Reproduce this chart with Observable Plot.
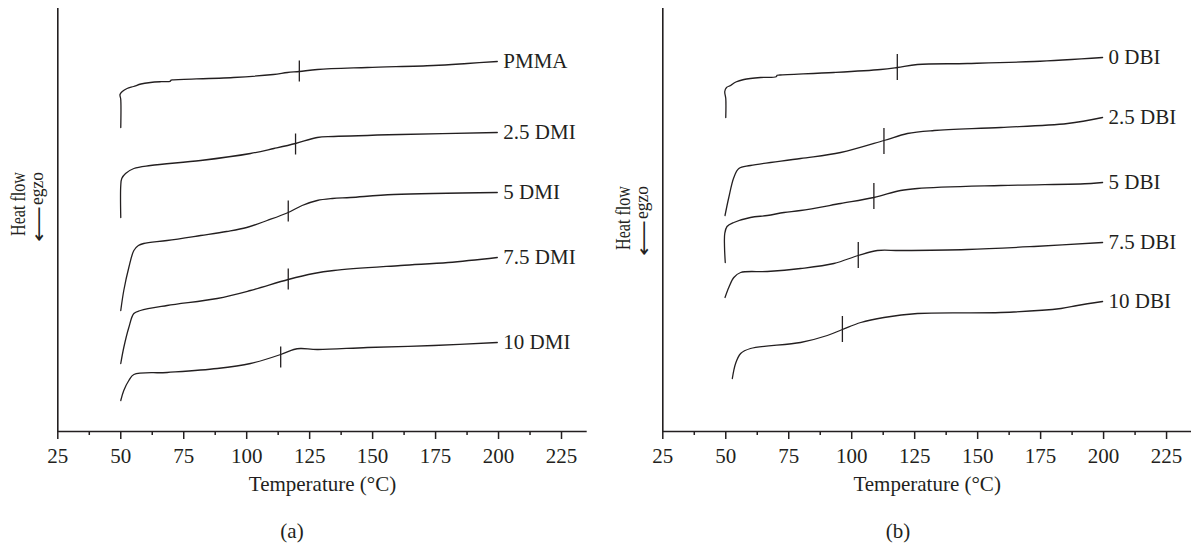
<!DOCTYPE html>
<html>
<head>
<meta charset="utf-8">
<script src="https://cdn.jsdelivr.net/npm/d3@7"></script>
<script src="https://cdn.jsdelivr.net/npm/@observablehq/plot@0.6"></script>
<style>
  html, body { margin: 0; padding: 0; background: #fff; }
  #wrap { position: relative; width: 1191px; height: 546px; overflow: hidden; background: #fff;
          font-family: 'Liberation Serif', 'Times New Roman', serif; color: #231f20; }
  .panel { position: absolute; top: 0; }
  .cap { position: absolute; font-size: 21px; line-height: 1; transform: translate(-50%, -50%); }
  #ov { position: absolute; left: 0; top: 0; pointer-events: none; }
</style>
</head>
<body>
<div id="wrap">
  <div class="panel" id="pa" style="left:0px;width:605px;"></div>
  <div class="panel" id="pb" style="left:605px;width:586px;"></div>
  <svg id="ov" width="1191" height="546" font-family="'Liberation Serif', 'Times New Roman', serif" fill="#231f20">
    <text transform="translate(25,236) rotate(-90)" font-size="20" textLength="64" lengthAdjust="spacingAndGlyphs">Heat flow</text>
    <text transform="translate(44.5,242) rotate(-90)" font-size="19" font-family="'DejaVu Sans', sans-serif" textLength="36" lengthAdjust="spacingAndGlyphs">⟵</text>
    <text transform="translate(43,205) rotate(-90)" font-size="19" textLength="33" lengthAdjust="spacingAndGlyphs">egzo</text>
    <text transform="translate(630,250) rotate(-90)" font-size="20" textLength="64" lengthAdjust="spacingAndGlyphs">Heat flow</text>
    <text transform="translate(649.5,256) rotate(-90)" font-size="19" font-family="'DejaVu Sans', sans-serif" textLength="36" lengthAdjust="spacingAndGlyphs">⟵</text>
    <text transform="translate(648,219) rotate(-90)" font-size="19" textLength="33" lengthAdjust="spacingAndGlyphs">egzo</text>
  </svg>
  <div class="cap" style="left:292px;top:531px;">(a)</div>
  <div class="cap" style="left:898px;top:531px;">(b)</div>
</div>
<script>
// ---- Panel (a): PMMA with DMI ----
const labelsA = ["PMMA", "2.5 DMI", "5 DMI", "7.5 DMI", "10 DMI"];
const curvePMMA = [[50,30.4],[50,33.2],[49.7,33.7],[50.6,34.0],[52.5,34.3],[55.1,34.5],[58,34.75],[61.8,34.9],[66,34.98],[69.6,35.02],[70.0,35.14],[71,35.17],[94.7,35.4],[110.6,35.7],[116.2,35.9],[120.9,36.0],[128.1,36.2],[147.9,36.4],[174.1,36.6],[187.6,36.8],[199.5,37.0]];
const curve25DMI = [[50,21.4],[50,24.6],[50.4,25.3],[51.9,25.8],[55.2,26.3],[61.8,26.6],[81.7,27.1],[101.5,27.8],[110.8,28.3],[119.4,28.8],[128.0,29.4],[134.6,29.5],[161.1,29.7],[199.5,29.9]];
const curve5DMI = [[50,12.1],[51.2,14.1],[53.2,16.4],[55.2,18.1],[57,18.6],[59.1,18.8],[68.4,19.1],[81.7,19.6],[92,20.0],[100,20.4],[108.1,21.1],[116.5,21.9],[122,22.6],[128.0,23.1],[134,23.3],[141.2,23.4],[158.4,23.7],[199.5,23.9]];
const curve75DMI = [[50,6.8],[51.2,8.4],[53.2,10.4],[55.2,11.8],[57.8,12.1],[68.4,12.6],[88.3,13.3],[101.5,14.1],[116.5,15.2],[126.6,15.8],[134.6,16.1],[161.1,16.6],[180,16.9],[199.5,17.4]];
const curve10DMI = [[50,3.1],[51.2,4.1],[53.2,5.1],[55.2,5.7],[68.4,5.9],[88.3,6.3],[101.5,6.8],[113.5,7.7],[118.7,8.2],[121.4,8.3],[128.0,8.2],[147.9,8.4],[174.3,8.6],[199.5,8.9]];
const tgTempA = [120.9, 119.4, 116.5, 116.5, 113.5];
const tgFlowA = [36.0, 28.7, 22.0, 15.2, 7.4];

// ---- Panel (b): DBI ----
const labelsB = ["0 DBI", "2.5 DBI", "5 DBI", "7.5 DBI", "10 DBI"];
const curve0DBI = [[50,31.4],[50,33.3],[49.6,34.0],[50.3,34.4],[51.9,34.6],[54,34.95],[57.2,35.2],[63.8,35.4],[70.0,35.48],[70.4,35.62],[71.5,35.65],[92.9,35.9],[111.5,36.2],[118.1,36.4],[126.1,36.7],[145.9,36.8],[172.4,37.0],[199.6,37.4]];
const curve25DBI = [[49.7,21.6],[51.2,23.4],[53.2,25.4],[55.2,26.3],[59.8,26.6],[79.7,27.3],[95.6,27.9],[112.8,29.1],[122.1,29.8],[132.7,30.1],[159.2,30.4],[185.7,30.8],[199.6,31.4]];
const curve5DBI = [[49.8,16.9],[49.5,18.5],[49.6,19.8],[50.5,20.5],[53.2,20.9],[59.8,21.4],[66.5,21.6],[73.1,21.9],[79.7,22.1],[95.6,22.8],[108.8,23.4],[119.4,24.1],[126.1,24.3],[159.2,24.6],[195.0,24.8],[199.6,24.9]];
const curve75DBI = [[49.7,13.4],[51.2,14.4],[53.2,15.4],[55.9,15.9],[66.5,16.0],[79.7,16.3],[92.9,16.8],[102.6,17.6],[110.2,18.1],[119.4,18.1],[145.9,18.2],[172.4,18.5],[199.6,18.9]];
const curve10DBI = [[52.6,5.3],[53.9,6.8],[55.9,7.8],[59.8,8.3],[79.7,8.9],[90.3,9.6],[96.3,10.2],[103.6,10.9],[112.8,11.4],[126.1,11.8],[159.2,11.9],[183.1,12.3],[189.6,12.6],[199.6,13.0]];
const tgTempB = [118.1, 112.8, 108.8, 102.6, 96.3];
const tgFlowB = [36.4, 29.0, 23.5, 17.6, 10.2];

// ---- Axis ticks ----
const majorTicks = [25, 50, 75, 100, 125, 150, 175, 200, 225];
const minorTicks = [37.5, 62.5, 87.5, 112.5, 137.5, 162.5, 187.5, 212.5];
const xTitle = "Temperature (°C)";

const ink = "#231f20";
const font = "'Liberation Serif', 'Times New Roman', serif";

function panel({curves, labels, tgT, tgF, width, marginRight, xMax, tickHalf}) {
  const rows = curves.flatMap((c, i) => c.map(([T, hf]) => ({T, hf, s: labels[i]})));
  const ends = curves.map((c, i) => ({T: c[c.length - 1][0], hf: c[c.length - 1][1], s: labels[i]}));
  const tg = tgT.map((T, i) => ({T, hf: tgF[i]}));
  return Plot.plot({
    width, height: 505,
    marginTop: 8, marginBottom: 74, marginLeft: 57.3, marginRight,
    x: {domain: [25, xMax]},
    y: {domain: [0, 42.3], axis: null},
    style: {fontFamily: font, fontSize: "21px", color: ink, background: "transparent", overflow: "visible"},
    marks: [
      Plot.axisX({ticks: majorTicks, tickSize: 8, tickPadding: 9, tickFormat: d => String(d), label: null, strokeWidth: 1.5, fontSize: 21}),
      Plot.axisX({ticks: minorTicks, tickSize: 4, tickFormat: () => "", label: null, strokeWidth: 1.5}),
      Plot.ruleY([0], {stroke: ink, strokeWidth: 1.6}),
      Plot.ruleX([25], {stroke: ink, strokeWidth: 1.6}),
      Plot.line(rows, {x: "T", y: "hf", z: "s", curve: "catmull-rom", stroke: ink, strokeWidth: 1.3}),
      Plot.ruleX(tg, {x: "T", y1: d => d.hf - tickHalf, y2: d => d.hf + tickHalf, stroke: ink, strokeWidth: 1.3}),
      Plot.text(ends, {x: "T", y: "hf", text: "s", textAnchor: "start", dx: 6, fontSize: 21, fill: ink}),
      Plot.text([xTitle], {frameAnchor: "bottom", dy: 59, fontSize: 21, fill: ink})
    ]
  });
}

document.getElementById("pa").append(panel({
  curves: [curvePMMA, curve25DMI, curve5DMI, curve75DMI, curve10DMI],
  labels: labelsA, tgT: tgTempA, tgF: tgFlowA,
  width: 605, marginRight: 18.3, xMax: 235.2, tickHalf: 1.05
}));
document.getElementById("pb").append(panel({
  curves: [curve0DBI, curve25DBI, curve5DBI, curve75DBI, curve10DBI],
  labels: labelsB, tgT: tgTempB, tgF: tgFlowB,
  width: 586, marginRight: 0, xMax: 234.9, tickHalf: 1.3
}));
</script>
</body>
</html>
